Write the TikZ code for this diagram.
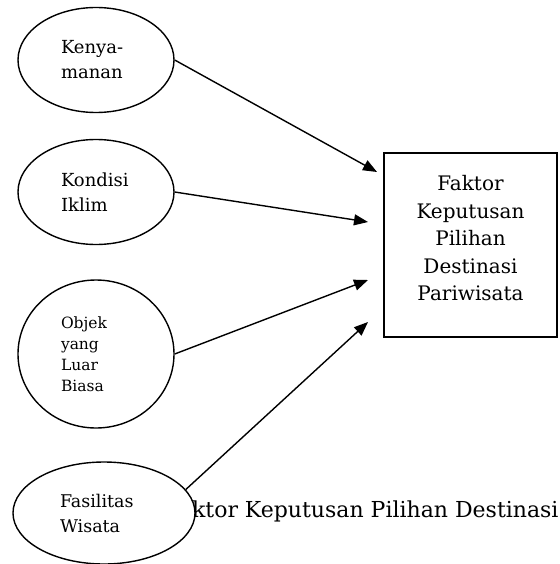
\documentclass[tikz,border=0pt]{standalone}
\usepackage{fontspec}
\setmainfont{DejaVu Serif}
\usetikzlibrary{arrows.meta,shapes.geometric}
\tikzset{
	factor/.style={
			draw, ellipse, line width=1.4pt, fill=white, inner sep=0pt,
			minimum width=156pt, minimum height=105pt,
			text width=70pt, align=left,
			font=\fontsize{18}{25}\selectfont
		},
	result/.style={
			draw, rectangle, line width=1.4pt, inner sep=0pt,
			minimum width=173pt, minimum height=184pt,
			align=center, font=\fontsize{20}{27.5}\selectfont
		},
	arrow/.style={
			line width=1.4pt, -{Triangle[length=14pt,width=11pt]}
		}
}

\begin{document}
\begin{tikzpicture}[x=1pt,y=-1pt]
        % Page frame
        \clip (0,0) rectangle (559,564);
        \fill[white] (0,0) rectangle (559,564);

        % Caption running behind the last ellipse
        \node[anchor=base west, inner sep=0pt, font=\fontsize{22}{27}\selectfont] (caption) at (165,517) {Faktor Keputusan Pilihan Destinasi};

        % Draw the factors
        \node[factor] (kenyamanan) at (96,60) {Kenya-\\manan};
        \node[factor] (iklim) at (96,192) {Kondisi\\Iklim};
        \node[factor, minimum height=148pt, font=\fontsize{15.5}{21}\selectfont] (objek) at (96,354) {Objek\\yang\\Luar\\Biasa};
        \node[factor, minimum width=182pt, minimum height=102pt, text width=88pt, font=\fontsize{17.5}{25}\selectfont] (fasilitas) at (104,513) {Fasilitas\\Wisata};

        % Draw the decision box
        \node[result] (keputusan) at (470.5,245) {Faktor\\Keputusan\\Pilihan\\Destinasi\\Pariwisata\\[-14pt]};

        % Arrow tips
        \coordinate (tip1) at (377,172);
        \coordinate (tip2) at (368,222);
        \coordinate (tip3) at (368,280);
        \coordinate (tip4) at (368,322);

        % Draw the arrows
        \draw[arrow] (kenyamanan.east) -- (tip1);
        \draw[arrow] (iklim.east) -- (tip2);
        \draw[arrow] (objek.east) -- (tip3);
        \draw[arrow] (fasilitas.16) -- (tip4);

    \end{tikzpicture}
\end{document}
